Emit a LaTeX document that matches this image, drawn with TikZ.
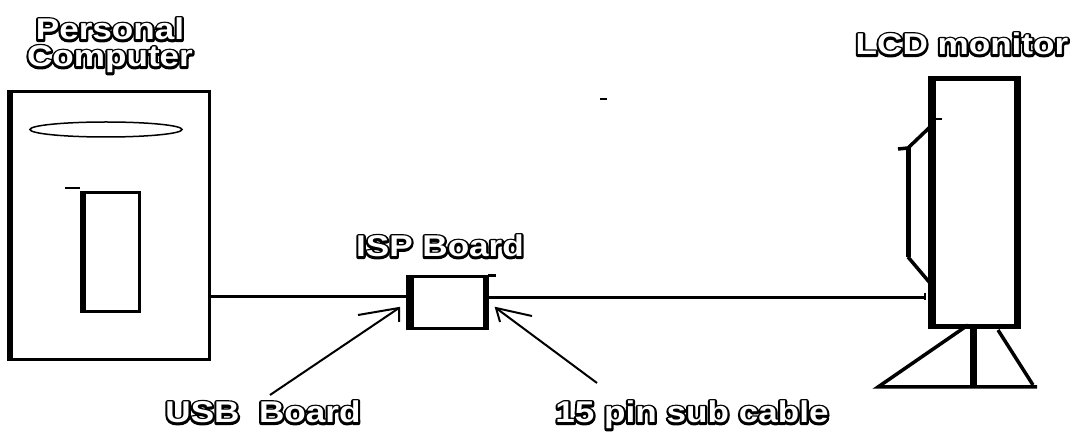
\documentclass[tikz,border=0pt]{standalone}
\usepackage{fontspec}
\newfontfamily\lblfont{Liberation Sans Bold}[FakeStretch=1.17]
\usetikzlibrary{positioning,shapes.geometric}

% white letters with a black rim
\newcommand{\rimtext}[1]{\special{pdf:literal direct 1 Tr 4.4 w 0 G 1 j}\rlap{#1}\special{pdf:literal direct 0 Tr}#1}

\tikzset{
  part/.style={draw,line width=3pt,inner sep=0pt},
  lbl/.style={text=white,inner sep=0pt,anchor=base,font=\lblfont\fontsize{30}{32}\selectfont},
  wire/.style={line width=3pt},
  pointer/.style={line width=2pt},
  stand/.style={line width=3.5pt}
}

\begin{document}
\begin{tikzpicture}[x=1pt,y=-1pt]
\useasboundingbox (0,0) rectangle (1079,435);

% the computer
\node[part,minimum width=200pt,minimum height=268pt] (pc) at (109.5,225.5) {};
\draw[line width=6pt] ([xshift=2pt]pc.south west) -- ([xshift=2pt]pc.north west);
\node[draw,ellipse,line width=1.5pt,minimum width=152pt,minimum height=15pt,inner sep=0pt] (disk) at (106,129.5) {};
\node[draw,line width=2.5pt,minimum width=57pt,minimum height=119pt,inner sep=0pt] (slot) at (111,252) {};
\draw[line width=6pt] ([xshift=2pt]slot.south west) -- ([xshift=2pt]slot.north west);
\draw[line width=2pt] ([xshift=-16pt,yshift=3pt]slot.north west) -- ([xshift=-1pt,yshift=3pt]slot.north west);
\node[lbl,align=center,font=\lblfont\fontsize{30}{27}\selectfont] (pclbl) at (110,67) {\rimtext{Personal}\\\rimtext{Computer}};

% the isp board
\node[part,minimum width=78pt,minimum height=52pt] (isp) at (447.5,303) {};
\draw[line width=8pt] ([xshift=3pt]isp.south west) -- ([xshift=3pt]isp.north west);
\draw[line width=6pt] ([xshift=-2pt]isp.south east) -- ([xshift=-2pt]isp.north east);
\draw[line width=2.5pt] (isp.north east) -- ++(8,0);
\node[lbl] (isplbl) at (440,257) {\rimtext{ISP Board}};

% the monitor
\node[part,line width=5pt,minimum width=84pt,minimum height=248pt] (mon) at (974.5,203) {};
\draw[line width=8pt] ([xshift=2pt]mon.south west) -- ([xshift=2pt]mon.north west);
\draw[line width=7pt] ([xshift=-1.5pt]mon.south east) -- ([xshift=-1.5pt]mon.north east);
\node[lbl] (monlbl) at (962,55) {\rimtext{LCD monitor}};

% cables
\coordinate (plug) at (925,297);
\draw[wire] ([yshift=6pt]isp.west -| pc.east) -- ([yshift=6pt]isp.west);
\draw[wire] ([yshift=5pt]isp.east) -- ([yshift=5pt]isp.east -| plug);
\draw[line width=2.5pt] ([yshift=4pt]plug) -- ([yshift=-3pt]plug);

% stand behind the screen
\draw[line width=2.5pt] (933,119) -- (942,119);
\draw[stand] (930,127) -- (908,148) -- (898,149);
\draw[line width=5pt] (908,148) -- (908,257);
\draw[stand] (908,257) -- (930,283);

% feet
\coordinate (footl) at (878,387);
\coordinate (footr) at (1037,387);
\draw[stand] (968,325) -- (footl) -- (footr);
\draw[line width=7pt] (973.5,328) -- (973.5,388);
\draw[stand] (998,330) -- (1033,385);

% little dash
\draw[line width=2.5pt] (600,99) -- (607,99);

% pointers
\node[lbl] (usblbl) at (263,423) {\rimtext{USB\ \ Board}};
\node[lbl] (cablbl) at (692,423) {\rimtext{15 pin sub cable}};
\coordinate (usbtip) at (399,308);
\coordinate (cabtip) at (496,308);
\draw[pointer] (270,395) -- (usbtip);
\draw[pointer] (358,315) -- (usbtip) -- (399,322);
\draw[pointer] (597,383) -- (cabtip);
\draw[pointer] (532,316) -- (cabtip) -- (500,322);

\end{tikzpicture}
\end{document}
